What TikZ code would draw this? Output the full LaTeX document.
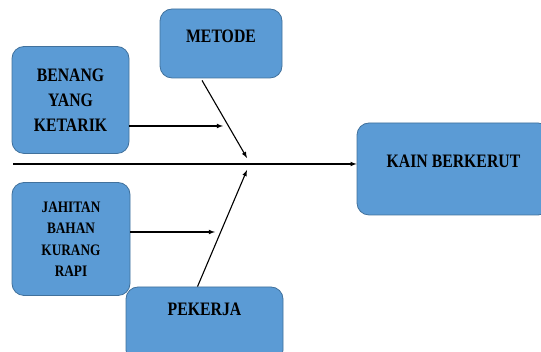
\documentclass[tikz,border=0pt]{standalone}
\usepackage{fontspec}
\setmainfont{Liberation Serif}[FakeStretch=0.83]
\usepackage{tikz}
\usetikzlibrary{calc}
\definecolor{boxblue}{HTML}{5B9BD5}
\definecolor{boxedge}{HTML}{41719C}

\begin{document}
\begin{tikzpicture}[x=1pt, y=1pt,
  box/.style={draw=boxedge, fill=boxblue, line width=0.8pt, rounded corners=12pt,
    inner xsep=0pt, align=center, font=\fontsize{19}{25}\selectfont\bfseries},
  bone/.style={->, >=latex, line width=1.1pt}]
\useasboundingbox (0,0) rectangle (541,352);
% causes
\node[box, minimum width=117, minimum height=107] (benang) at (70.5,252) {BENANG\\YANG\\KETARIK};
\node[box, inner ysep=0pt, minimum width=122, text height=34, text depth=35] (metode) at (221,308.5) {METODE};
\node[box, minimum width=118, minimum height=113, font=\fontsize{16}{21.5}\selectfont\bfseries] (jahitan) at (71,113) {JAHITAN\\BAHAN\\KURANG\\RAPI};
\node[box, inner ysep=0pt, minimum width=157, text height=29, text depth=46] (pekerja) at (204.5,27.5) {PEKERJA};
% effect
\node[box, inner ysep=0pt, minimum width=193, text height=45, text depth=47] (kain) at (453.5,183) {KAIN BERKERUT};
% spine
\coordinate (tail) at (13,188);
\draw[bone] (tail) -- (tail -| kain.west);
% bones
\coordinate (b1) at (223,226);
\coordinate (j1) at (215,120);
\coordinate (m1) at (247,194);
\coordinate (p1) at (247,182);
\draw[bone] (benang.east |- b1) -- (b1);
\draw[bone] (jahitan.east |- j1) -- (j1);
\draw[bone] ($(metode.south)+(-19,-2)$) -- (m1);
\draw[bone] ($(pekerja.north)+(-7,0)$) -- (p1);
\end{tikzpicture}
\end{document}
